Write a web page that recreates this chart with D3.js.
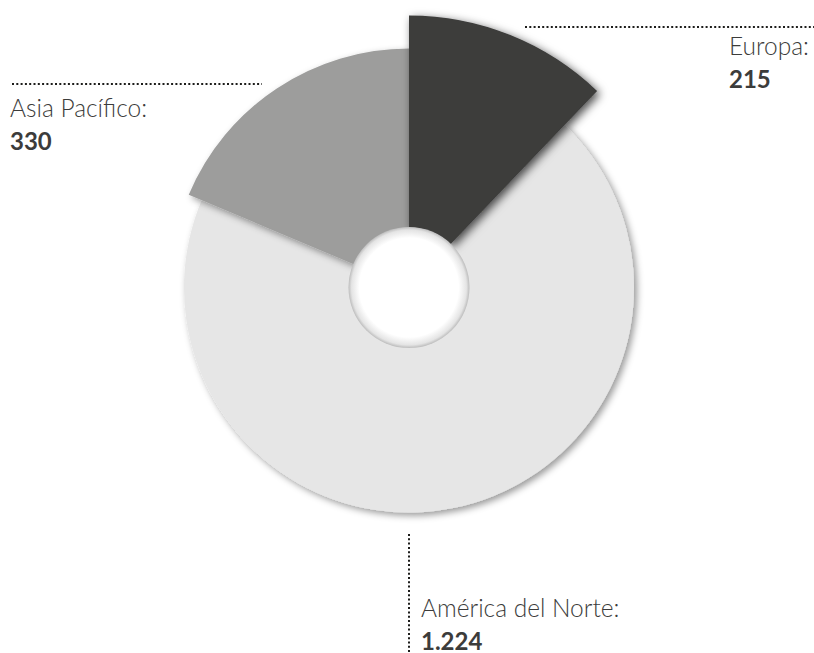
<!DOCTYPE html>
<html>
<head>
<meta charset="utf-8">
<script src="https://cdn.jsdelivr.net/npm/d3@7"></script>
<style>
  html, body { margin: 0; padding: 0; background: #fff; }
  svg text { font-family: Lato, "Open Sans", sans-serif; fill: #3c3c3b; }
  .lbl { font-weight: 300; font-size: 24.5px; }
  .val { font-weight: 700; font-size: 24px; }
</style>
</head>
<body>
<div id="chart"></div>
<script>
const categories = ['Europa', 'América del Norte', 'Asia Pacífico'];
const values = [215, 1224, 330];
const valueLabels = ['215', '1.224', '330'];

const DonutChart = function(){
  const W = 814,
        H = 653,
        CX = 409,
        CY = 287.5,
        R_IN = 60;
  const colors = {'Europa': '#3c3c3b', 'América del Norte': '#e6e6e6', 'Asia Pacífico': '#9d9d9c'};
  const outer = {'Europa': 272, 'América del Norte': 225, 'Asia Pacífico': 239};
  // drawing order: big light slice at the back, dark one on top
  const order = ['América del Norte', 'Asia Pacífico', 'Europa'];

  // leader lines and label spots, per category
  const lines = {
    'Europa': [[525, 27], [814, 27]],
    'Asia Pacífico': [[12, 84], [262, 84]],
    'América del Norte': [[409, 534], [409, 653]]
  };
  const spots = {'Europa': [729, 55], 'Asia Pacífico': [10, 117], 'América del Norte': [421, 617]};

  const plot = () => {
    const rows = categories.map((c, i) => ({name: c, value: values[i], label: valueLabels[i]}));

    const svg = d3.select('#chart')
      .append('svg')
      .attr('width', W)
      .attr('height', H);

    const defs = svg.append('defs');
    const mkShadow = (id, op, sd) => defs.append('filter')
      .attr('id', id)
      .attr('x', '-30%').attr('y', '-30%')
      .attr('width', '160%').attr('height', '160%')
      .append('feDropShadow')
      .attr('dx', 3).attr('dy', 3)
      .attr('stdDeviation', sd)
      .attr('flood-color', '#000')
      .attr('flood-opacity', op);
    mkShadow('shadow', 0.4, 3.5);
    mkShadow('shadowDark', 0.7, 5);

    const hole = defs.append('radialGradient').attr('id', 'hole');
    hole.append('stop').attr('offset', '0.82').attr('stop-color', '#fff');
    hole.append('stop').attr('offset', '0.95').attr('stop-color', '#e4e4e4');
    hole.append('stop').attr('offset', '1').attr('stop-color', '#bdbdbd');

    const pie = d3.pie().sort(null).value(d => d.value);
    const arcs = pie(rows);

    const g = svg.append('g').attr('transform', `translate(${CX},${CY})`);

    g.selectAll('path')
      .data(arcs.slice().sort((a, b) => order.indexOf(a.data.name) - order.indexOf(b.data.name)))
      .enter()
      .append('path')
      .attr('d', d => d3.arc().innerRadius(R_IN).outerRadius(outer[d.data.name])(d))
      .attr('fill', d => colors[d.data.name])
      .attr('filter', d => d.data.name === 'Europa' ? 'url(#shadowDark)' : 'url(#shadow)');

    g.append('circle')
      .attr('r', R_IN + 0.5)
      .attr('fill', 'url(#hole)');

    rows.forEach(r => {
      const ln = lines[r.name], sp = spots[r.name];
      svg.append('line')
        .attr('x1', ln[0][0]).attr('y1', ln[0][1])
        .attr('x2', ln[1][0]).attr('y2', ln[1][1])
        .attr('stroke', '#1d1d1b')
        .attr('stroke-width', 2)
        .attr('stroke-dasharray', '2 2.3');
      svg.append('text')
        .attr('class', 'lbl')
        .attr('x', sp[0]).attr('y', sp[1])
        .text(r.name + ':');
      svg.append('text')
        .attr('class', 'val')
        .attr('x', sp[0]).attr('y', sp[1] + 33)
        .text(r.label);
    });
  };

  return { load: plot };
}();
document.addEventListener('DOMContentLoaded', DonutChart.load);
</script>
</body>
</html>
